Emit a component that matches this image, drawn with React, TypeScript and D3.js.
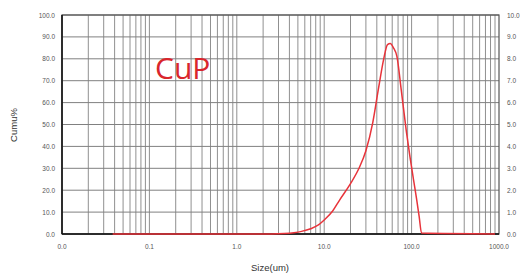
import { useEffect, useRef } from 'react';
import * as d3 from 'd3';

// particle size (um) and cumulative %
const sizes = [0.038, 0.5, 2.5, 3.5, 4.5, 5.5, 7, 8.5, 10, 12.5, 15, 20, 25, 30, 36, 42, 48, 53, 57, 62, 68, 76, 87, 96, 105, 114, 122, 130, 900];
const cumu = [0, 0, 0, 0.2, 0.6, 1.2, 2.4, 4, 6.4, 10.5, 15.5, 23, 30, 38, 51, 67, 80, 86.5, 87, 85, 81, 66, 47, 35, 25, 16, 8, 0.4, 0];

const leftTicks = [0, 10, 20, 30, 40, 50, 60, 70, 80, 90, 100];
const rightTicks = [0, 1, 2, 3, 4, 5, 6, 7, 8, 9, 10];
const xTicks = [0.01, 0.1, 1, 10, 100, 1000];
const xTickLabels = ['0.0', '0.1', '1.0', '10.0', '100.0', '1000.0'];

export default function App() {
  const svgRef = useRef<SVGSVGElement>(null);

  useEffect(() => {
    const svg = d3.select(svgRef.current);
    svg.selectAll('*').remove();
    const width = 522;
    const height = 275;
    const margin = { top: 15, right: 23, bottom: 41, left: 62 };
    const font = 'Arial, "Liberation Sans", sans-serif';

    const x = d3.scaleLog().domain([0.01, 1000]).range([margin.left, width - margin.right]);
    const y = d3.scaleLinear().domain([0, 100]).range([height - margin.bottom, margin.top]);
    const y2 = d3.scaleLinear().domain([0, 10]).range([height - margin.bottom, margin.top]);

    svg.append('rect').attr('width', width).attr('height', height).attr('fill', '#fff');

    // vertical grid: 1..9 of each decade
    const minor: number[] = [];
    for (let e = -2; e < 3; e++) for (let m = 1; m < 10; m++) minor.push(m * Math.pow(10, e));
    svg.append('g').selectAll('line').data(minor).enter().append('line')
      .attr('x1', (d) => x(d)).attr('x2', (d) => x(d))
      .attr('y1', margin.top).attr('y2', height - margin.bottom)
      .attr('stroke', '#909090').attr('stroke-width', 1);

    // horizontal grid
    svg.append('g').selectAll('line').data(leftTicks).enter().append('line')
      .attr('x1', margin.left).attr('x2', width - margin.right)
      .attr('y1', (d) => y(d)).attr('y2', (d) => y(d))
      .attr('stroke', '#808080').attr('stroke-width', 1);

    // frame
    svg.append('rect')
      .attr('x', margin.left).attr('y', margin.top)
      .attr('width', width - margin.left - margin.right)
      .attr('height', height - margin.top - margin.bottom)
      .attr('fill', 'none').attr('stroke', '#555').attr('stroke-width', 1.2);
    svg.append('line')
      .attr('x1', margin.left).attr('x2', width - margin.right)
      .attr('y1', y(0)).attr('y2', y(0))
      .attr('stroke', '#111').attr('stroke-width', 1.5);
    svg.append('line')
      .attr('x1', margin.left).attr('x2', margin.left)
      .attr('y1', margin.top).attr('y2', y(0))
      .attr('stroke', '#111').attr('stroke-width', 1.5);

    // tick labels
    svg.append('g').selectAll('text').data(leftTicks).enter().append('text')
      .attr('x', margin.left - 7).attr('y', (d) => y(d) + 2.5)
      .attr('text-anchor', 'end').attr('font-size', 6.5).attr('font-family', font).attr('fill', '#555')
      .text((d) => d.toFixed(1));
    svg.append('g').selectAll('text').data(rightTicks).enter().append('text')
      .attr('x', width - margin.right + 8).attr('y', (d) => y2(d) + 2.5)
      .attr('font-size', 6.5).attr('font-family', font).attr('fill', '#555')
      .text((d) => d.toFixed(1));
    svg.append('g').selectAll('text').data(xTicks).enter().append('text')
      .attr('x', (d) => x(d)).attr('y', y(0) + 15)
      .attr('text-anchor', 'middle').attr('font-size', 6.5).attr('font-family', font).attr('fill', '#555')
      .text((d, i) => xTickLabels[i]);

    // axis titles
    svg.append('text')
      .attr('x', 270).attr('y', 271)
      .attr('text-anchor', 'middle').attr('font-size', 9.5).attr('font-family', font).attr('fill', '#333')
      .text('Size(um)');
    svg.append('text')
      .attr('transform', 'translate(17,125) rotate(-90)')
      .attr('text-anchor', 'middle').attr('font-size', 9.5).attr('font-family', font).attr('fill', '#333')
      .text('Cumu%');

    // curve
    const line = d3.line<number>()
      .x((d, i) => x(sizes[i]))
      .y((d) => y(d))
      .curve(d3.curveMonotoneX);
    svg.append('path')
      .attr('d', line(cumu))
      .attr('fill', 'none').attr('stroke', '#e8333a').attr('stroke-width', 1.5);

    svg.append('text')
      .attr('x', 155).attr('y', 79)
      .attr('font-size', 30).attr('font-family', '"Open Sans", "Noto Sans", sans-serif').attr('fill', '#d9262c')
      .text('CuP');
  }, []);

  return <svg ref={svgRef} width="522" height="275" style={{ position: 'absolute', left: 0, top: 0 }} />;
}
